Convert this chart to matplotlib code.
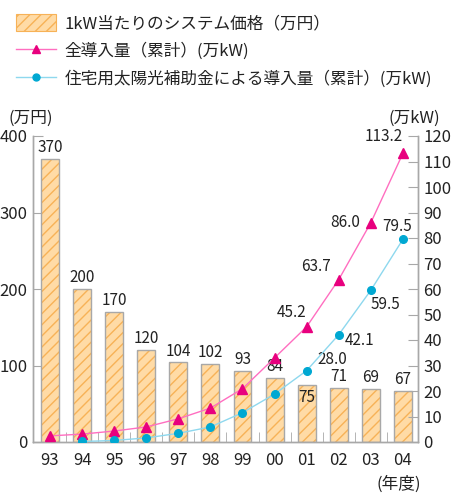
import matplotlib
matplotlib.use("Agg")
import matplotlib.pyplot as plt
from matplotlib.patches import Patch
from matplotlib.lines import Line2D
import numpy as np

plt.rcParams['font.family'] = ['Noto Sans CJK JP', 'DejaVu Sans']

years = ["93", "94", "95", "96", "97", "98", "99", "00", "01", "02", "03", "04"]
price = [370, 200, 170, 120, 104, 102, 93, 84, 75, 71, 69, 67]
total = [2.4, 3.1, 4.3, 5.9, 9.1, 13.3, 20.9, 33.0, 45.2, 63.7, 86.0, 113.2]
subsidy = [None, 0.2, 0.6, 1.6, 3.4, 5.9, 11.5, 18.8, 28.0, 42.1, 59.5, 79.5]

label_price = "1kW当たりのシステム価格（万円）"
label_total = "全導入量（累計）(万kW)"
label_sub = "住宅用太陽光補助金による導入量（累計）(万kW)"

W, H = 462, 493
fig = plt.figure(figsize=(W / 100, H / 100), dpi=100)
ax = fig.add_axes([33.3 / W, 1 - 442 / H, (418 - 33.3) / W, (442 - 136) / H])
ax2 = ax.twinx()

x = np.arange(len(years))
fill_c = '#FFDBA6'
hatch_c = '#F7B257'
edge_c = '#A8A8A8'
pink = '#FF6EC0'
pink_m = '#E8007E'
cyan = '#8ED8EE'
cyan_m = '#00A8D2'

ax.bar(x, price, width=0.56, color=fill_c, edgecolor=hatch_c, hatch='///', linewidth=0, zorder=2)
ax.bar(x, price, width=0.56, facecolor='none', edgecolor=edge_c, linewidth=1.0, zorder=3)

for i, v in enumerate(price):
    if v == 75:
        ax.annotate(str(v), (i, v), xytext=(0, -3), textcoords='offset points',
                    ha='center', va='top', fontsize=11, color='#222222', zorder=5)
    else:
        ax.annotate(str(v), (i, v), xytext=(0, 2), textcoords='offset points',
                    ha='center', va='bottom', fontsize=11, color='#222222', zorder=5)

ax.set_xlim(-0.52, 11.47)
ax.set_ylim(0, 400)
ax.set_yticks([0, 100, 200, 300, 400])
ax2.set_ylim(0, 120)
ax2.set_yticks(range(0, 121, 10))

sx = [i for i, v in enumerate(subsidy) if v is not None]
sv = [v for v in subsidy if v is not None]
ax2.plot(x, total, color=pink, lw=1.0, marker='^', markersize=6.5,
         markerfacecolor=pink_m, markeredgecolor=pink_m, zorder=4)
ax2.plot(sx, sv, color=cyan, lw=1.0, marker='o', markersize=5.5,
         markerfacecolor=cyan_m, markeredgecolor=cyan_m, zorder=4)

# line labels (offsets in points)
total_offsets = {8: (0, 4, 'right', 'bottom'), 9: (-6, 3, 'right', 'bottom'),
                 10: (-8, 0, 'right', 'center'), 11: (0, 6, 'right', 'bottom')}
sub_offsets = {8: (8, 2, 'left', 'bottom'), 9: (4, -4, 'left', 'center'),
               10: (0, -10, 'left', 'center'), 11: (-4, 9, 'center', 'center')}
for i, (dx, dy, ha, va) in total_offsets.items():
    ax2.annotate(f"{total[i]:.1f}", (i, total[i]), xytext=(dx, dy), textcoords='offset points',
                 ha=ha, va=va, fontsize=11, color='#222222')
for i, (dx, dy, ha, va) in sub_offsets.items():
    ax2.annotate(f"{subsidy[i]:.1f}", (i, subsidy[i]), xytext=(dx, dy), textcoords='offset points',
                 ha=ha, va=va, fontsize=11, color='#222222')

for a in (ax, ax2):
    a.spines['top'].set_visible(False)
    for s in ('left', 'right', 'bottom'):
        a.spines[s].set_color(edge_c)
        a.spines[s].set_linewidth(1.0)

ax.tick_params(axis='y', direction='in', length=7, color=edge_c, labelsize=12, pad=4, labelcolor='#222222')
ax2.tick_params(axis='y', direction='in', length=7, color=edge_c, labelsize=12, pad=4, labelcolor='#222222')
ax.set_xticks(x)
ax.set_xticklabels(years)
ax.tick_params(axis='x', which='major', length=0, labelsize=12, pad=7, labelcolor='#222222')
ax.set_xticks(np.arange(0.5, 11, 1), minor=True)
ax.tick_params(axis='x', which='minor', direction='in', length=7, color=edge_c)

def fx(px):
    return px / W

def fy(py):
    return 1 - py / H

fig.text(fx(31), fy(118), "(万円)", ha='center', va='center', fontsize=12, color='#222222')
fig.text(fx(414), fy(118), "(万kW)", ha='center', va='center', fontsize=12, color='#222222')
fig.text(fx(399), fy(484), "(年度)", ha='center', va='center', fontsize=12, color='#222222')

handles = [
    Patch(facecolor=fill_c, edgecolor=hatch_c, hatch='///', linewidth=0.8),
    Line2D([], [], color=pink, lw=1.0, marker='^', markersize=6, markerfacecolor=pink_m, markeredgecolor=pink_m),
    Line2D([], [], color=cyan, lw=1.0, marker='o', markersize=5, markerfacecolor=cyan_m, markeredgecolor=cyan_m),
]
leg = fig.legend(handles, [label_price, label_total, label_sub], loc='upper left',
                 bbox_to_anchor=(fx(13), fy(11)), frameon=False, fontsize=12,
                 handlelength=2.4, handleheight=1.15, handletextpad=0.5, labelspacing=0.6,
                 borderpad=0.2, borderaxespad=0)
for t in leg.get_texts():
    t.set_color('#222222')

fig.savefig("out.png", dpi=100)
